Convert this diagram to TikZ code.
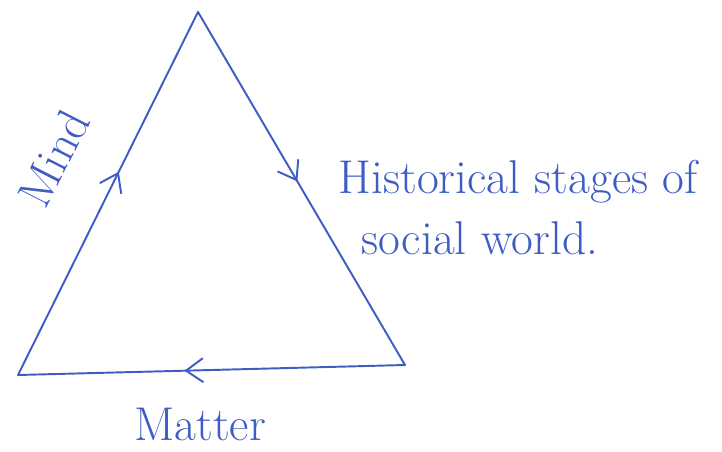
\documentclass[tikz,border=0pt]{standalone}
\usetikzlibrary{arrows.meta,decorations.markings}
\definecolor{inkblue}{RGB}{62,92,196}
\tikzset{
  side/.style={inkblue, line width=1.1pt, line cap=round,
    postaction={decorate}},
  midarrow/.style={decoration={markings,
    mark=at position #1 with {\arrow{Straight Barb[length=3.4mm,width=4.8mm,line width=1.1pt]}}}},
  hand/.style={text=inkblue, font=\fontsize{27}{32}\selectfont, align=center, inner sep=1pt}
}
\begin{document}
\begin{tikzpicture}[x=0.02cm, y=-0.02cm]
  \useasboundingbox (0,0) rectangle (722,452);
  % corners
  \coordinate (top) at (198,12);
  \coordinate (bl) at (18,375);
  \coordinate (br) at (405,365);
  % sides
  \draw[side, midarrow=0.56] (bl) -- (top);
  \draw[side, midarrow=0.48] (top) -- (br);
  \draw[side, midarrow=0.57] (br) -- (bl);
  % labels
  \node[hand, rotate=63] (mind) at (54,158) {Mind};
  \node[hand] (hist) at (518,182) {Historical stages of};
  \node[hand] (soc) at (480,238) {social world.};
  \node[hand] (matter) at (200,424) {Matter};
\end{tikzpicture}
\end{document}
